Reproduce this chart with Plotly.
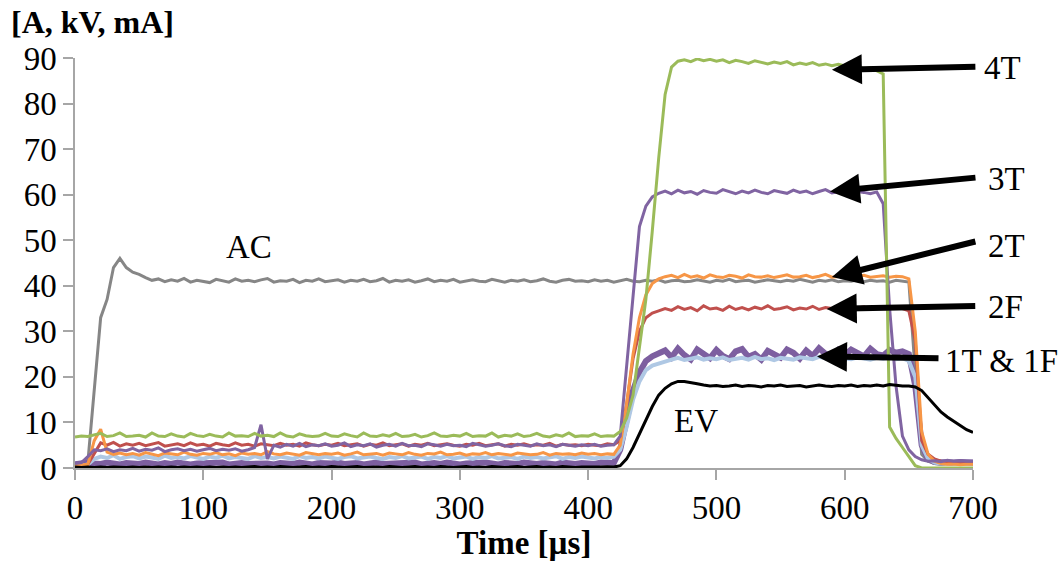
import plotly.graph_objects as go

# sampling grid (µs), one sample every 5 µs from 0 to 700
time_us = list(range(0, 701, 5))

ac = [
    1.0, 1.0, 1.2, 18, 33, 37, 44, 46, 44, 43,
    42.5, 41.8, 41.2, 41.5, 40.9, 41.3, 41.0, 41.6, 40.8, 41.2,
    41.0, 40.7, 41.4, 41.1, 40.8, 41.5, 41.0, 41.2, 40.9, 41.3,
    41.6, 40.8, 41.1, 41.0, 41.4, 40.7, 41.2, 41.0, 41.5, 40.9,
    41.1, 41.3, 40.8, 41.2, 41.0, 41.4, 40.9, 41.1, 41.6, 40.8,
    41.2, 41.0, 41.3, 40.8, 41.1, 41.5, 40.9, 41.2, 41.0, 41.4,
    40.8, 41.1, 41.3, 41.0, 40.9, 41.4, 41.1, 40.8, 41.2, 41.0,
    41.3, 40.9, 41.1, 41.5, 41.0, 40.8, 41.2, 41.4, 41.0, 41.1,
    40.9, 41.3, 41.0, 41.2, 40.8, 41.1, 41.4, 41.0, 40.9, 41.2,
    41.0, 41.3, 40.8, 41.1, 41.2, 40.9, 41.0, 41.3, 41.1, 40.8,
    41.2, 41.0, 41.4, 40.9, 41.1, 41.2, 40.8, 41.0, 41.3, 41.1,
    40.9, 41.2, 41.0, 41.4, 41.1, 40.8, 41.2, 41.0, 41.3, 40.9,
    41.1, 41.0, 41.3, 40.9, 41.2, 41.0, 41.1, 40.8, 41.2, 41.0,
    40.8, 21, 3, 1.5, 1.0, 0.8, 1.0, 0.8, 1.0, 0.9,
    0.8,
]

t4 = [
    6.8, 7.0, 6.9, 7.2, 7.6, 6.9, 7.1, 7.7, 6.9, 7.0,
    7.2, 6.8, 7.7, 7.0, 6.9, 7.5, 7.0, 6.8, 7.6, 7.1,
    6.9, 7.4, 7.0, 6.8, 7.7, 7.0, 7.1, 6.9, 7.6, 7.0,
    7.2, 6.9, 7.7, 7.0, 6.8, 7.5, 7.1, 6.9, 7.0, 7.6,
    7.0, 6.9, 7.5, 7.1, 6.8, 7.7, 7.0, 6.9, 7.3, 7.0,
    7.6, 6.9, 7.0, 7.4, 6.8, 7.1, 7.7, 7.0, 6.9, 7.2,
    7.0, 7.6, 6.9, 7.1, 7.0, 7.7, 6.8, 7.2, 7.0, 7.5,
    6.9, 7.1, 7.6, 7.0, 6.8, 7.3, 7.0, 7.7, 6.9, 7.1,
    7.0, 7.5, 6.9, 7.1, 7.0, 8, 11, 16, 27, 37,
    52, 68, 82, 88, 89.3, 89.6, 89.2, 89.8, 89.4, 89.7,
    89.3, 89.6, 89.0, 89.5, 89.2, 88.8, 89.4, 89.0, 88.7, 89.1,
    88.8, 89.2, 88.5, 88.9, 88.6, 89.0, 88.4, 88.7, 88.3, 88.6,
    88.2, 87.9, 88.3, 87.6, 87.9, 87.2, 86.5, 9, 6.5, 4.5,
    2.5, 0.5, 0, 0, 0, 0, 0, 0, 0, 0,
    0,
]

t3 = [
    1.0, 1.2, 2.5, 4.0, 3.8, 4.2, 3.6, 4.0, 3.8, 4.3,
    3.7, 4.1, 3.9, 4.4, 3.6, 4.0, 4.2, 3.8, 4.1, 3.7,
    4.0, 4.3, 3.8, 4.1, 3.9, 4.2, 3.7, 4.0, 4.5, 9.5,
    2.0, 5.0, 4.6, 5.2, 4.8, 5.4, 4.7, 5.1, 4.9, 5.3,
    4.8, 5.0, 5.5, 4.7, 5.1, 4.9, 5.3, 4.6, 5.0, 5.2,
    4.8, 5.4, 4.9, 5.0, 4.7, 5.3, 5.1, 4.8, 5.2, 4.9,
    5.0, 4.7, 5.4, 5.1, 4.8, 5.0, 5.3, 4.9, 4.7, 5.2,
    5.0, 4.8, 5.3, 4.9, 5.1, 4.7, 5.2, 5.0, 4.8, 5.1,
    4.9, 5.2, 4.8, 5.0, 5.1, 7, 22, 38, 53, 57.5,
    59.5, 60.3, 60.8, 60.2, 61.0, 60.4, 60.7, 60.1, 60.9, 60.5,
    60.3, 61.1, 60.6, 60.2, 60.8, 60.4, 61.0, 60.5, 60.2, 60.9,
    60.6, 60.3, 61.0, 60.5, 60.8, 60.2, 60.7, 61.1, 60.4, 60.6,
    60.9, 60.3, 60.7, 60.5, 60.2, 60.6, 58, 35, 18, 7,
    4, 2.5, 1.8, 1.5, 1.6, 1.4, 1.7, 1.5, 1.6, 1.5,
    1.5,
]

t2 = [
    0.5, 0.6, 0.8, 6.0, 8.5, 3.5, 3.0, 3.3, 2.9, 3.2,
    2.8, 3.4, 3.0, 2.7, 3.3, 3.1, 2.9, 3.5, 3.0, 2.8,
    3.2, 3.0, 3.4, 2.9, 3.1, 2.7, 3.3, 3.0, 3.2, 2.9,
    3.6, 3.1, 2.9, 3.3, 3.0, 2.8, 3.4, 3.1, 2.9, 3.2,
    3.0, 3.3, 2.8, 3.1, 3.5, 2.9, 3.0, 3.2, 2.8, 3.3,
    3.1, 2.9, 3.4, 3.0, 2.8, 3.2, 3.1, 3.5, 2.9, 3.0,
    3.3, 2.8, 3.1, 3.0, 3.4, 2.9, 3.2, 3.0, 2.8, 3.3,
    3.1, 2.9, 3.0, 3.4, 2.8, 3.2, 3.0, 3.1, 2.9, 3.3,
    3.0, 3.2, 2.9, 3.1, 3.0, 5, 14, 25, 33, 38,
    40.5, 41.5, 42.0, 42.3, 41.8, 42.5, 41.9, 42.2, 41.7, 42.4,
    42.0, 41.8, 42.3, 42.1, 41.7, 42.4, 42.0, 41.9, 42.2, 41.8,
    42.1, 42.4, 41.9, 42.0, 42.3, 41.8, 42.1, 42.5, 41.9, 42.0,
    42.2, 41.8, 42.1, 42.3, 41.9, 42.0, 42.2, 41.9, 42.1, 42.0,
    41.5, 30, 8, 3, 1.5, 1.0, 0.8, 0.9, 0.7, 0.8,
    0.8,
]

f2 = [
    0.5, 0.5, 0.8, 3.0, 5.5, 5.0, 5.6, 4.8, 5.3, 5.0,
    5.4, 4.9, 5.2, 5.6, 4.8, 5.1, 5.3, 4.9, 5.5, 5.0,
    5.2, 4.8, 5.4, 5.1, 4.9, 5.5, 5.0, 5.2, 4.8, 5.3,
    5.1, 4.9, 5.4, 5.0, 5.2, 4.8, 5.5, 5.1, 4.9, 5.2,
    5.0, 5.4, 4.9, 5.1, 5.3, 4.8, 5.2, 5.0, 5.5, 4.9,
    5.1, 5.3, 4.8, 5.2, 5.0, 5.4, 4.9, 5.1, 5.3, 5.0,
    4.8, 5.2, 5.0, 5.4, 4.9, 5.1, 5.3, 4.8, 5.2, 5.0,
    5.3, 4.9, 5.1, 5.0, 5.4, 4.8, 5.2, 5.0, 5.1, 4.9,
    5.2, 5.0, 4.9, 5.3, 5.1, 6, 14, 24, 30, 33,
    34.0, 34.5, 35.0, 34.6, 35.4, 34.8, 35.2, 34.5, 35.6, 34.9,
    35.1, 34.6, 35.5, 34.8, 35.2, 34.7, 35.3, 34.9, 35.6, 34.8,
    35.0, 35.4, 34.7, 35.1, 34.9, 35.5, 34.8, 35.2, 35.0, 34.6,
    35.3, 34.9, 35.1, 35.4, 34.8, 35.2, 35.0, 34.9, 35.3, 35.0,
    34.5, 28, 6, 3, 2, 1.5, 1.2, 1.4, 1.1, 1.3,
    1.2,
]

f1 = [
    0.5, 0.5, 0.8, 2.0, 2.5, 2.2, 2.8, 2.0, 2.4, 2.6,
    2.1, 2.5, 2.3, 2.0, 2.7, 2.2, 2.4, 2.1, 2.6, 2.3,
    2.0, 2.5, 2.2, 2.7, 2.1, 2.4, 2.3, 2.0, 2.6, 2.2,
    2.4, 2.1, 2.5, 2.3, 2.0, 2.6, 2.2, 2.4, 2.1, 2.5,
    2.3, 2.0, 2.4, 2.6, 2.1, 2.3, 2.5, 2.2, 2.0, 2.4,
    2.2, 2.6, 2.1, 2.3, 2.5, 2.0, 2.4, 2.2, 2.6, 2.1,
    2.3, 2.5, 2.0, 2.4, 2.2, 2.6, 2.1, 2.3, 2.4, 2.0,
    2.5, 2.2, 2.4, 2.1, 2.3, 2.6, 2.0, 2.4, 2.2, 2.5,
    2.3, 2.1, 2.4, 2.2, 2.5, 4, 9, 15, 19, 21.5,
    22.5, 23.0, 23.5, 23.8, 24.2, 23.7, 24.0, 24.3, 23.8, 24.1,
    23.9, 24.3, 23.7, 24.0, 24.2, 23.8, 24.4, 23.9, 24.1, 23.7,
    24.2, 24.0, 23.8, 24.3, 24.0, 23.9, 24.4, 24.1, 23.8, 24.2,
    24.0, 23.9, 24.3, 24.1, 23.8, 24.2, 24.0, 24.3, 23.9, 24.1,
    23.5, 20, 5, 2, 1.2, 1.0, 1.1, 0.9, 1.0, 1.0,
    1.0,
]

t1 = [
    0.8, 1.0, 1.2, 1.0, 0.9, 1.2, 1.0, 0.8, 1.1, 1.0,
    0.9, 1.2, 1.0, 0.8, 1.1, 0.9, 1.2, 1.0, 0.8, 1.0,
    1.1, 0.9, 1.0, 1.2, 0.8, 1.0, 1.1, 0.9, 1.0, 1.2,
    1.0, 0.8, 1.1, 1.0, 0.9, 1.2, 1.0, 0.8, 1.1, 0.9,
    1.0, 1.2, 0.9, 1.0, 1.1, 0.8, 1.0, 1.2, 0.9, 1.0,
    1.1, 0.9, 1.0, 1.2, 0.8, 1.0, 1.1, 0.9, 1.2, 1.0,
    0.8, 1.0, 1.1, 0.9, 1.2, 1.0, 0.8, 1.1, 1.0, 0.9,
    1.2, 1.0, 0.9, 1.1, 1.0, 0.8, 1.2, 1.0, 0.9, 1.1,
    1.0, 0.9, 1.2, 1.0, 1.1, 4, 10, 17, 21, 23.5,
    24.5, 25.0, 25.8, 24.3, 26.2, 24.8, 23.8, 26.0, 25.2, 24.1,
    25.9, 24.6, 23.9, 25.6, 26.1, 24.4, 25.0, 23.8, 25.7, 24.9,
    24.2, 26.0, 25.3, 24.0, 25.8, 24.6, 26.3, 25.1, 24.3, 25.9,
    24.8, 26.0, 25.4, 24.5, 26.2, 25.0, 24.7, 25.9, 25.3, 25.6,
    25.0, 18, 5, 2, 1.3, 1.2, 1.4, 1.2, 1.3, 1.2,
    1.2,
]

ev = [
    0.2, 0.1, 0.2, 0.1, 0.2, 0.1, 0.2, 0.1, 0.1, 0.2,
    0.1, 0.2, 0.1, 0.2, 0.1, 0.2, 0.1, 0.2, 0.1, 0.2,
    0.1, 0.2, 0.1, 0.2, 0.1, 0.2, 0.1, 0.2, 0.3, 0.1,
    0.2, 0.1, 0.3, 0.2, 0.1, 0.2, 0.3, 0.1, 0.2, 0.1,
    0.3, 0.2, 0.1, 0.2, 0.3, 0.1, 0.2, 0.2, 0.1, 0.3,
    0.2, 0.1, 0.2, 0.3, 0.1, 0.2, 0.1, 0.3, 0.2, 0.1,
    0.2, 0.3, 0.1, 0.2, 0.1, 0.3, 0.2, 0.1, 0.2, 0.3,
    0.1, 0.2, 0.3, 0.1, 0.2, 0.1, 0.3, 0.2, 0.1, 0.2,
    0.2, 0.1, 0.2, 0.3, 0.2, 0.5, 2.0, 4.5, 7.5, 10.5,
    13.5, 16.0, 17.5, 18.5, 19.0, 19.0, 18.8, 18.5, 18.2, 18.0,
    18.1, 17.9, 18.0, 18.2, 17.9, 18.1, 18.0, 17.8, 18.1, 18.0,
    18.2, 17.9, 18.0, 18.1, 17.8, 18.0, 18.2, 18.0, 17.9, 18.1,
    18.0, 18.2, 17.9, 18.1, 18.0, 18.2, 18.0, 18.3, 18.1, 18.0,
    18.0, 17.8, 17.0, 15.5, 13.8, 12.3, 11.2, 10.2, 9.2, 8.4,
    7.8,
]

x_tick_vals = [0, 100, 200, 300, 400, 500, 600, 700]
y_tick_vals = [0, 10, 20, 30, 40, 50, 60, 70, 80, 90]

FONT = "Liberation Serif, Times New Roman, serif"
FS = 33

series = [
    ("AC", ac, "#868686", 3),
    ("1T", t1, "#7D5FA0", 6),
    ("1F", f1, "#AFC8E4", 4),
    ("2F", f2, "#C0504D", 3),
    ("2T", t2, "#F79646", 3),
    ("3T", t3, "#8064A2", 3),
    ("4T", t4, "#9BBB59", 3),
    ("EV", ev, "#000000", 3),
]

fig = go.Figure()
for name, vals, color, w in series:
    assert len(vals) == len(time_us), (name, len(vals))
    fig.add_trace(go.Scatter(x=time_us, y=vals, mode="lines", name=name,
                             line=dict(color=color, width=w), showlegend=False))

# arrows: head at data point, tail offset in pixels
arrows = [
    (590, 87.4, 145, -3),
    (588.5, 60.7, 147, -14),
    (590, 41.9, 145, -36),
    (586, 34.9, 150, -3),
    (578.4, 24.5, 123, 2),
]
for x, y, ax, ay in arrows:
    fig.add_annotation(x=x, y=y, ax=ax, ay=ay, text="", showarrow=True,
                       arrowhead=2, arrowsize=1.0, arrowwidth=6, arrowcolor="black")

# series labels right of the plot (paper coordinates)
side_labels = [
    ("4T", 1.010, 0.976),
    ("3T", 1.014, 0.704),
    ("2T", 1.014, 0.541),
    ("2F", 1.014, 0.393),
    ("1T & 1F", 0.967, 0.260),
]
for txt, x, y in side_labels:
    fig.add_annotation(xref="paper", yref="paper", x=x, y=y, text=txt, showarrow=False,
                       xanchor="left", yanchor="middle",
                       font=dict(family=FONT, size=FS, color="black"))

inner_labels = [
    ("AC", 135.6, 48.5),
    ("EV", 484, 10.3),
]
for txt, x, y in inner_labels:
    fig.add_annotation(x=x, y=y, text=txt, showarrow=False, xanchor="center", yanchor="middle",
                       font=dict(family=FONT, size=FS, color="black"))

fig.add_annotation(xref="paper", yref="paper", x=-0.073, y=1.087,
                   text="<b>[A, kV, mA]</b>", showarrow=False, xanchor="left", yanchor="middle",
                   font=dict(family=FONT, size=32, color="black"))

fig.update_layout(
    width=1059, height=561,
    margin=dict(l=75, r=86, t=58, b=91),
    paper_bgcolor="white", plot_bgcolor="white",
    font=dict(family=FONT, size=FS, color="black"),
    xaxis=dict(range=[0, 700], tickvals=x_tick_vals, showgrid=False, zeroline=False,
               showline=True, linecolor="#A6A6A6", linewidth=1.5,
               ticks="outside", ticklen=10, tickcolor="#A6A6A6", tickwidth=1.5,
               tickfont=dict(family=FONT, size=FS),
               title=dict(text="<b>Time [µs]</b>", standoff=0,
                          font=dict(family=FONT, size=FS))),
    yaxis=dict(range=[0, 90], tickvals=y_tick_vals, showgrid=False, zeroline=False,
               showline=True, linecolor="#A6A6A6", linewidth=1.5,
               ticks="outside", ticklen=10, tickcolor="#A6A6A6", tickwidth=1.5,
               tickfont=dict(family=FONT, size=FS)),
)

fig.write_html("out.html")
